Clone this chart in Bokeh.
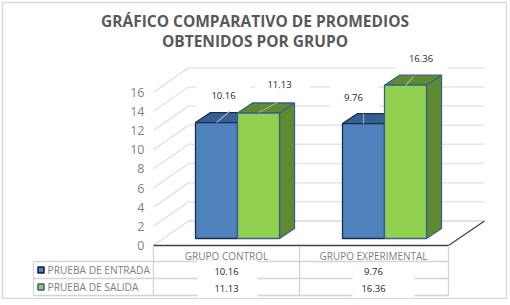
from bokeh.plotting import figure
from bokeh.embed import file_html
from bokeh.resources import INLINE
from bokeh.models import LinearAxis, FixedTicker
from bokeh.core.properties import value

title_lines = ["GRÁFICO COMPARATIVO DE PROMEDIOS", "OBTENIDOS POR GRUPO"]
categories = ["GRUPO CONTROL", "GRUPO EXPERIMENTAL"]
series_names = ["PRUEBA DE ENTRADA", "PRUEBA DE SALIDA"]
# printed values
entrada_labels = ["10.16", "9.76"]
salida_labels = ["11.13", "16.36"]
# bar heights as drawn, read against the 0-16 axis
entrada_heights = [12.1, 12.0]
salida_heights = [13.1, 16.0]
y_ticks = [0, 2, 4, 6, 8, 10, 12, 14, 16]

W, H = 507, 299
ORIGIN_X, ORIGIN_Y = 0, 0   # page position of the canvas
PX = 9.58            # pixels per axis unit
Y0 = 245             # page y of value 0
def py(v):           # page y -> data y
    return (Y0 - v) / PX

p = figure(width=W, height=H, output_backend="svg", toolbar_location=None,
           x_range=(ORIGIN_X, ORIGIN_X + W), y_range=(py(ORIGIN_Y + H), py(ORIGIN_Y)),
           min_border=0, min_border_left=0, min_border_right=0,
           min_border_top=0, min_border_bottom=0,
           x_axis_type=None, y_axis_type=None)
p.grid.visible = False
p.outline_line_color = None
p.background_fill_color = "white"
p.border_fill_color = "white"

axis = LinearAxis(ticker=FixedTicker(ticks=y_ticks), fixed_location=154)
axis.axis_line_color = None
axis.major_tick_line_color = None
axis.minor_tick_line_color = None
axis.major_label_standoff = 4
axis.major_label_text_color = "#7f7f7f"
axis.major_label_text_font = "Open Sans"
axis.major_label_text_font_size = "12.5px"
p.add_layout(axis, "left")

FONT = value("Open Sans")
GRID = "#dedede"
TABLE = "#d4d4d4"
WALL_DX, WALL_DY = 35, 24.5
LEFT, RIGHT = 153, 448

# outer border of the chart
p.line([2, 506, 506, 2, 2], [py(2), py(2), py(298), py(298), py(2)], line_color="#d9d9d9", line_width=1.5)

# walls and gridlines
for t in y_ticks:
    v = t + WALL_DY / PX
    if t > 0:
        p.line([LEFT, LEFT + WALL_DX], [t, v], line_color=GRID, line_width=1.2)
        p.line([LEFT + WALL_DX, RIGHT + WALL_DX + 1], [v, v], line_color="#e6e6e6", line_width=1.5)
v0 = WALL_DY / PX
p.line([LEFT, LEFT + WALL_DX], [0, v0], line_color=GRID, line_width=1.2)
p.line([LEFT + WALL_DX, RIGHT + WALL_DX + 1], [v0, v0], line_color="#d9d9d9", line_width=1.5)

# white boxes behind the data labels
label_x = [[223, 353], [279, 420.5]]
label_y = [[95, 97], [84, 58]]
box_x = [[(195, 250), (330, 378)], [(255, 309), (396, 447)]]
box_y = [[(78, 110), (80, 110)], [(74, 94), (48, 76)]]
for xs, ys in zip(box_x, box_y):
    for (a, b), (c, d) in zip(xs, ys):
        p.quad(left=a, right=b, top=py(c), bottom=py(d), fill_color="white", line_color=None)

# bars
BASE = py(238)
BAR_W = 42
DX, DY = 15, 10
starts = [195, 342]
styles = [
    dict(front="#4f81bd", top="#376092", side="#376092", edge="#14304f"),
    dict(front="#92d050", top="#5f8a30", side="#5f8a30", edge="#35608f"),
]
def bar(x0, h, st):
    x1 = x0 + BAR_W
    yb = BASE
    yt = BASE + h
    d = DY / PX
    p.patch([x0, x1, x1 + DX, x0 + DX], [yt, yt, yt + d, yt + d],
            fill_color=st["top"], line_color=st["edge"], line_width=1.3)
    p.patch([x1, x1 + DX, x1 + DX, x1], [yb, yb + d, yt + d, yt],
            fill_color=st["side"], line_color=st["edge"], line_width=1.3)
    p.quad(left=x0, right=x1, bottom=yb, top=yt,
           fill_color=st["front"], line_color=st["edge"], line_width=1.3)

for i, x0 in enumerate(starts):
    bar(x0, entrada_heights[i], styles[0])
    bar(x0 + BAR_W, salida_heights[i], styles[1])

# leader lines
leaders = [((229, 111), (216, 122)), ((277, 102), (258, 112)),
           ((363, 113), (363, 123)), ((413, 76), (405, 85))]
for (xa, ya), (xb, yb) in leaders:
    p.line([xa, xb], [py(ya), py(yb)], line_color="#a6a6a6", line_width=1.2)

# data labels
for xs, ys, labs in zip(label_x, label_y, [entrada_labels, salida_labels]):
    p.text(x=xs, y=[py(v) for v in ys], text=labs, text_font=FONT, text_font_size="9.5px",
           text_color="#262626", text_align="center", text_baseline="middle")

# floor edge
p.line([LEFT, RIGHT], [0, 0], line_color="#404040", line_width=1.5)
p.line([RIGHT, RIGHT + WALL_DX + 1], [0, v0], line_color="#404040", line_width=1.2)

# data table
row_y = [261, 278, 295]
for y in row_y:
    p.line([33, RIGHT], [py(y), py(y)], line_color=TABLE, line_width=1.3)
p.line([33, 33], [py(261), py(295)], line_color=TABLE, line_width=1.3)
for x in [LEFT, 299, RIGHT]:
    p.line([x, x], [py(246), py(295)], line_color=TABLE, line_width=1.3)

p.quad(left=[197, 352], right=[257, 414], top=[py(260), py(262)], bottom=[py(297), py(297)],
       fill_color="white", line_color=None)

cat_x = [226, 373]
p.text(x=cat_x, y=[py(255.5)] * 2, text=categories, text_font=FONT, text_font_size="10px",
       text_color="#7f7f7f", text_align="center", text_baseline="middle")
p.text(x=cat_x, y=[py(271)] * 2, text=entrada_labels, text_font=FONT, text_font_size="9.5px",
       text_color="#262626", text_align="center", text_baseline="middle")
p.text(x=cat_x, y=[py(288)] * 2, text=salida_labels, text_font=FONT, text_font_size="9.5px",
       text_color="#262626", text_align="center", text_baseline="middle")

# legend keys in the table
key_y = [269.5, 286.5]
for st, y, name in zip(styles, key_y, series_names):
    p.quad(left=37.5, right=43.5, top=py(y - 3), bottom=py(y + 3),
           fill_color=st["front"], line_color=st["edge"] if st is styles[1] else "#0d1f33", line_width=1.5)
    p.text(x=[47], y=[py(y)], text=[name], text_font=FONT, text_font_size="10.2px",
           text_color="#7f7f7f", text_align="left", text_baseline="middle")

# title
p.text(x=[254.5, 254.5], y=[py(20.5), py(40)], text=title_lines, text_font=FONT,
       text_font_size="15.5px", text_font_style="bold", text_color="#595959",
       text_align="center", text_baseline="middle")

open("out.html", "w").write(file_html(p, INLINE))
